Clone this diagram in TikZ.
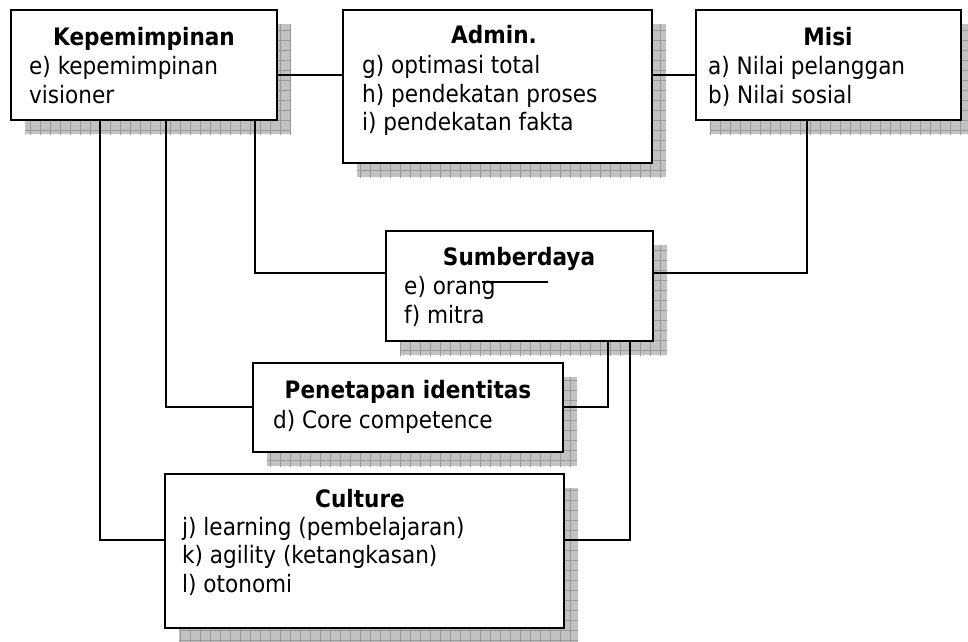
\documentclass[tikz,border=0pt]{standalone}
\usepackage{fontspec}
\setmainfont{DejaVu Sans Condensed}
\usetikzlibrary{backgrounds}

\tikzset{
  x=1pt, y=1pt,
  box/.style={draw=black, line width=2pt, fill=white, inner sep=0pt, outer sep=0pt},
  link/.style={draw=black, line width=1.4pt},
  head/.style={font=\bfseries\fontsize{24}{29}\selectfont, anchor=base, inner sep=0pt},
  item/.style={font=\fontsize{24}{29}\selectfont, anchor=base west, inner sep=0pt},
  shadefill/.style={fill=black!24},
  shadegrid/.style={draw=black!40, line width=0.8pt},
}

% hatched drop shadow behind a box node
\newcommand{\boxshadow}[1]{%
  \begin{scope}
    \clip ([shift={(14pt,-14pt)}]#1.south west) rectangle ([shift={(14pt,-14pt)}]#1.north east);
    \fill[shadefill] ([shift={(14pt,-14pt)}]#1.south west) rectangle ([shift={(14pt,-14pt)}]#1.north east);
    \draw[shadegrid, step=10pt] ([shift={(4pt,-24pt)}]#1.south west) grid ([shift={(24pt,-4pt)}]#1.north east);
  \end{scope}}

\begin{document}
\begin{tikzpicture}
\useasboundingbox (0,0) rectangle (968,-641);

% boxes
\node[box, minimum width=266pt, minimum height=110pt] (kep)  at (144,-65) {};
\node[box, minimum width=309pt, minimum height=153pt] (adm)  at (497.5,-86.5) {};
\node[box, minimum width=265pt, minimum height=110pt] (misi) at (828.5,-65) {};
\node[box, minimum width=267pt, minimum height=110pt] (sum)  at (519.5,-286) {};
\node[box, minimum width=310pt, minimum height=89pt]  (pen)  at (408,-407.5) {};
\node[box, minimum width=399pt, minimum height=154pt] (cul)  at (364.5,-551) {};

% shadows
\begin{scope}[on background layer]
  \boxshadow{kep}
  \boxshadow{adm}
  \boxshadow{misi}
  \boxshadow{sum}
  \boxshadow{pen}
  \boxshadow{cul}
\end{scope}

% texts
\node[head] (kepT) at (144,-45) {Kepemimpinan};
\node[item] (kep1) at (29,-74) {e) kepemimpinan};
\node[item] (kep2) at (29,-103) {visioner};

\node[head] (admT) at (494,-43) {Admin.};
\node[item] (adm1) at (362,-73) {g) optimasi total};
\node[item] (adm2) at (362,-102) {h) pendekatan proses};
\node[item] (adm3) at (362,-130) {i) pendekatan fakta};

\node[head] (misT) at (828,-45) {Misi};
\node[item] (mis1) at (708,-74) {a) Nilai pelanggan};
\node[item] (mis2) at (708,-103) {b) Nilai sosial};

\node[head] (sumT) at (519,-265) {Sumberdaya};
\node[item] (sum1) at (404,-294) {e) orang};
\node[item] (sum2) at (404,-323) {f) mitra};

\node[head] (penT) at (408,-398) {Penetapan identitas};
\node[item] (pen1) at (273,-428) {d) Core competence};

\node[head] (culT) at (360,-507) {Culture};
\node[item] (cul1) at (182,-535) {j) learning (pembelajaran)};
\node[item] (cul2) at (182,-563) {k) agility (ketangkasan)};
\node[item] (cul3) at (182,-592) {l) otonomi};

% connectors
\coordinate (topy) at (0,-75);
\draw[link] (kep.east |- topy) -- (adm.west |- topy);
\draw[link] (adm.east |- topy) -- (misi.west |- topy);

\coordinate (culy) at (100,-540);
\draw[link] (kep.south -| culy) |- (cul.west |- culy);
\coordinate (peny) at (166,-407);
\draw[link] (kep.south -| peny) |- (pen.west |- peny);
\coordinate (sumy) at (255,-273);
\draw[link] (kep.south -| sumy) |- (sum.west |- sumy);

\coordinate (misx) at (807,-273);
\draw[link] (misi.south -| misx) |- (sum.east |- misx);

\coordinate (s1) at (608,-407);
\draw[link] (sum.south -| s1) |- (pen.east |- s1);
\coordinate (s2) at (630,-540);
\draw[link] (sum.south -| s2) |- (cul.east |- s2);

% short stray rule inside Sumberdaya
\coordinate (ma) at (482,-282);
\coordinate (mb) at (548,-282);
\draw[link] (ma) -- (mb);
\end{tikzpicture}
\end{document}
